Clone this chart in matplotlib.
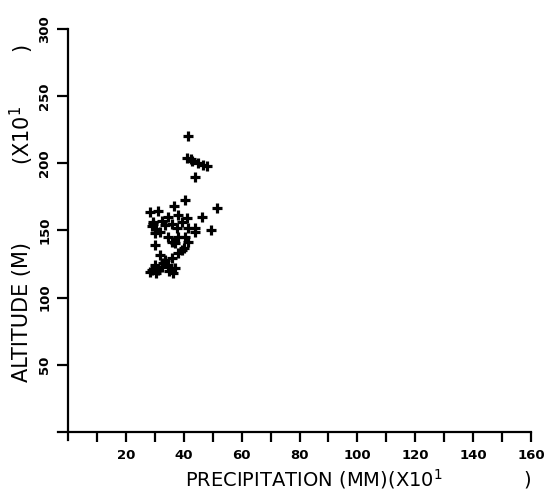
import numpy as np
import matplotlib
matplotlib.use("Agg")
import matplotlib.pyplot as plt

# precipitation (mm, x10) and altitude (m, x10)
precip = [41.5, 41.0, 43.0, 45.0, 48.0, 44.0, 42.5, 46.5,
          40.4, 51.5, 36.7, 28.3, 31.0, 38.0, 46.2, 41.0, 34.6,
          28.9, 33.5, 39.3, 41.6, 43.9, 30.0, 34.6, 38.0, 40.4, 31.8,
          44.0, 41.4, 35.8, 49.5, 29.5, 32.5, 36.0, 37.5, 30.5,
          30.0, 37.0, 39.3, 31.8, 33.5, 35.8, 30.0, 32.4, 28.9, 34.7,
          38.0, 28.3, 31.2, 37.0, 36.3, 33.0, 30.5, 35.0, 40.0, 29.5]
altitude = [220, 204, 202, 200, 198, 190, 203, 199,
            173, 167, 168, 164, 164.5, 161.6, 160, 159, 160,
            153, 154, 156.6, 151.6, 149, 148, 145, 145, 145, 149,
            152, 141.7, 141.7, 150, 156, 157, 155, 152, 151,
            139, 141, 135.5, 132, 128, 129.5, 124, 123, 120.6, 124,
            133, 119, 120.6, 122, 118, 126, 118, 120, 137, 155]

xticks = np.arange(10, 161, 10)
xlabels = [str(v) if v % 20 == 0 else "" for v in xticks]
yticks = [50, 100, 150, 200, 250, 300]

W, H = 547, 491
fig = plt.figure(figsize=(W / 100, H / 100), dpi=100)

# pixel geometry of the axes
x0_px, xs = 68, (531 - 68) / 160.0
y0_px, ys = 432, (432 - 29) / 300.0
xmin, ymin = -3.5, -6
left = (x0_px + xmin * xs) / W
right = 531 / W
bot = (H - (y0_px - ymin * ys)) / H
top = (H - 29) / H
ax = fig.add_axes([left, bot, right - left, top - bot])
ax.set_xlim(xmin, 160)
ax.set_ylim(ymin, 300)

ax.plot(precip, altitude, '+', color='black', ms=7, mew=2.3)

for s in ['top', 'right']:
    ax.spines[s].set_visible(False)
ax.spines['left'].set_position(('data', 0))
ax.spines['bottom'].set_position(('data', 0))
ax.spines['left'].set_linewidth(1.6)
ax.spines['bottom'].set_linewidth(1.6)

ax.set_xticks(xticks)
ax.set_xticklabels(xlabels, fontsize=9.5, fontweight='bold')
ax.set_yticks(yticks)
ax.set_yticklabels([str(v) for v in yticks], fontsize=9.5, fontweight='bold',
                   rotation=90, va='center')
ax.tick_params(axis='x', direction='out', length=7, width=1.6, pad=5)
ax.tick_params(axis='y', direction='out', length=8, width=1.6, pad=4)

fig.text(185 / W, 1 - 479 / H, "PRECIPITATION (MM)(X10$^{1}$             )",
         fontsize=14, ha='left', va='center')
fig.text(22 / W, 1 - 312 / H, "ALTITUDE (M)", fontsize=15, rotation=90,
         ha='center', va='center')
fig.text(22 / W, 1 - 165 / H, "(X10$^{1}$        )", fontsize=15, rotation=90,
         ha='center', va='bottom')

fig.savefig("out.png", dpi=100)
